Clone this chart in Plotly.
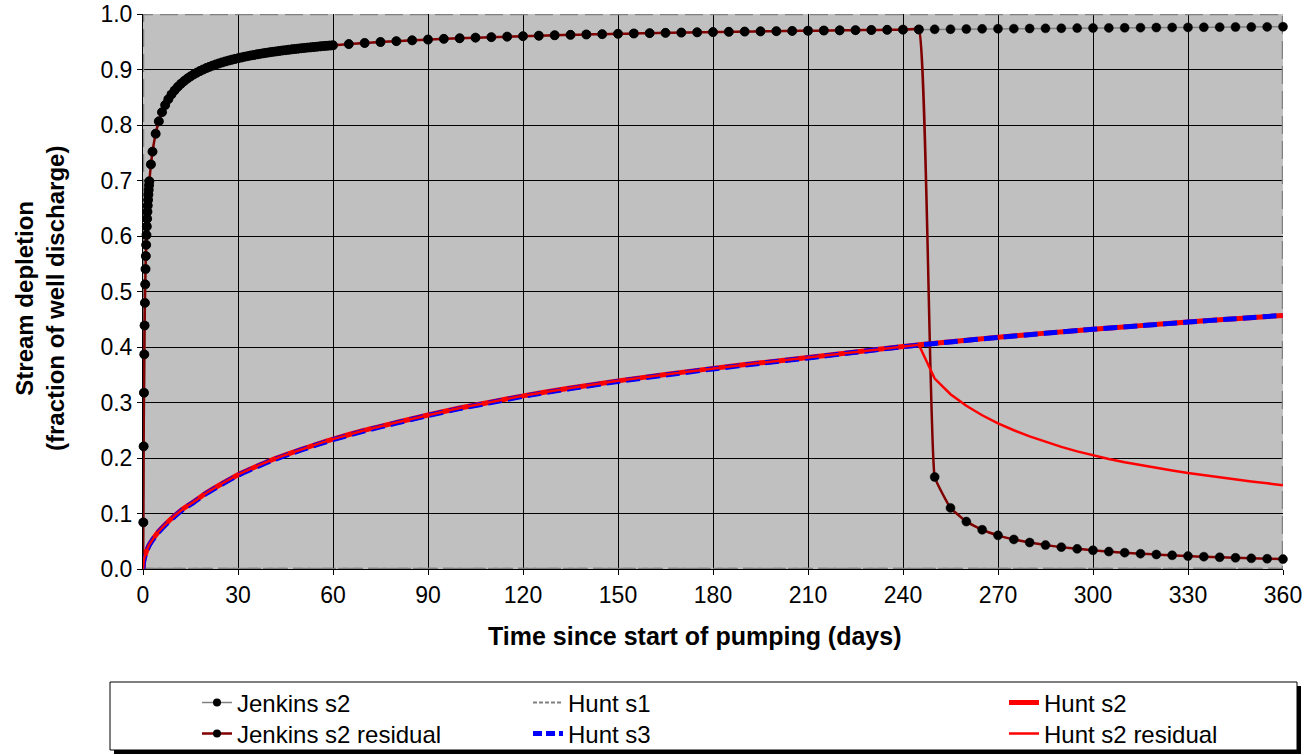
import plotly.graph_objects as go

# ---------------- data ----------------
stop_t = 245  # pumping stops (days)

jenkins_t = [0, 0.1, 0.2, 0.3, 0.4, 0.5, 0.6, 0.7, 0.8, 0.9, 1.0, 1.1, 1.2, 1.3, 1.4, 1.5, 1.6, 1.7, 1.8, 1.9, 2.0,
             2.5, 3, 4, 5, 6, 7,
             8, 9, 10, 11, 12, 13, 14, 15, 16, 17, 18, 19, 20, 21, 22, 23, 24, 25, 26, 27, 28, 29, 30,
             31, 32, 33, 34, 35, 36, 37, 38, 39, 40, 41, 42, 43, 44, 45, 46, 47, 48, 49, 50,
             51, 52, 53, 54, 55, 56, 57, 58, 59, 60,
             65, 70, 75, 80, 85, 90, 95, 100, 105, 110, 115, 120, 125, 130, 135, 140, 145, 150, 155, 160,
             165, 170, 175, 180, 185, 190, 195, 200, 205, 210, 215, 220, 225, 230, 235, 240, 245, 250, 255, 260,
             265, 270, 275, 280, 285, 290, 295, 300, 305, 310, 315, 320, 325, 330, 335, 340, 345, 350, 355, 360]
jenkins_s2 = [0, 0.084, 0.221, 0.3175, 0.3867, 0.4387, 0.4795, 0.5129, 0.5405, 0.5639, 0.5840, 0.6017, 0.6171,
              0.6311, 0.6437, 0.6549, 0.6651, 0.6745, 0.6832, 0.6913, 0.6987,
              0.729, 0.752, 0.7843, 0.8066, 0.8231, 0.8360,
              0.8465, 0.8551, 0.8625, 0.8688, 0.8744, 0.8793, 0.8836, 0.8875, 0.8911, 0.8943, 0.8973, 0.9000,
              0.9025, 0.9049, 0.9070, 0.9091, 0.9110, 0.9128, 0.9145, 0.9161, 0.9176, 0.9190, 0.9203,
              0.9216, 0.9229, 0.9240, 0.9252, 0.9262, 0.9273, 0.9282, 0.9292, 0.9301, 0.9310,
              0.9318, 0.9326, 0.9334, 0.9342, 0.9349, 0.9356, 0.9363, 0.9370, 0.9376, 0.9383,
              0.9389, 0.9395, 0.9400, 0.9406, 0.9411, 0.9417, 0.9422, 0.9427, 0.9432, 0.9436,
              0.9458, 0.9478, 0.9495, 0.9511, 0.9526, 0.9539, 0.9552, 0.9563, 0.9574, 0.9583,
              0.9592, 0.9601, 0.9609, 0.9617, 0.9624, 0.9631, 0.9637, 0.9643, 0.9649, 0.9655,
              0.9660, 0.9665, 0.9670, 0.9674, 0.9679, 0.9683, 0.9687, 0.9691, 0.9695, 0.9698,
              0.9702, 0.9705, 0.9709, 0.9712, 0.9715, 0.9718, 0.9721, 0.9724, 0.9726, 0.9729,
              0.9732, 0.9734, 0.9736, 0.9739, 0.9741, 0.9743, 0.9746, 0.9748, 0.9750, 0.9752,
              0.9754, 0.9756, 0.9758, 0.9759, 0.9761, 0.9763, 0.9765, 0.9766, 0.9768, 0.9770]

jres_t_post = [250, 255, 260, 265, 270, 275, 280, 285, 290, 295, 300, 305, 310, 315, 320, 325, 330,
               335, 340, 345, 350, 355, 360]
jres_post = [0.1658, 0.1101, 0.0854, 0.0707, 0.0606, 0.0533, 0.0477, 0.0431, 0.0394, 0.0363, 0.0337,
             0.0314, 0.0294, 0.0276, 0.0261, 0.0247, 0.0233, 0.0222, 0.0211, 0.0202, 0.0192, 0.0185, 0.0178]

hunt_t = [0, 0.1, 0.25, 0.5, 1, 1.5, 2, 3, 4, 5, 7, 10, 13, 16, 20, 25, 30, 35, 40, 45, 50, 55, 60,
          70, 80, 90, 100, 110, 120, 135, 150, 165, 180, 195, 210, 225, 240, 245, 255, 270, 285, 300,
          315, 330, 345, 360]
hunt_s2 = [0, 0.010, 0.0155, 0.022, 0.031, 0.038, 0.044, 0.053, 0.061, 0.068, 0.080, 0.096, 0.110,
           0.121, 0.137, 0.154, 0.170, 0.183, 0.195, 0.2055, 0.2155, 0.225, 0.234,
           0.250, 0.264, 0.2775, 0.290, 0.301, 0.312, 0.326, 0.339, 0.3505, 0.3615, 0.3715, 0.381,
           0.391, 0.401, 0.404, 0.4095, 0.4175, 0.425, 0.432, 0.4385, 0.445, 0.451, 0.457]
hunt_s3 = [0, 0.009, 0.0145, 0.021, 0.030, 0.037, 0.043, 0.052, 0.060, 0.067, 0.079, 0.095, 0.109,
           0.120, 0.136, 0.153, 0.169, 0.182, 0.194, 0.2045, 0.2145, 0.224, 0.233,
           0.249, 0.263, 0.2765, 0.289, 0.300, 0.311, 0.325, 0.338, 0.3495, 0.3605, 0.3705, 0.3802,
           0.3905, 0.4005, 0.4035, 0.4092, 0.4173, 0.4248, 0.4319, 0.4384, 0.4449, 0.451, 0.457]

hunt_s1_t = [0, 90, 180, 270, 360]
hunt_s1 = [0, 0, 0, 0, 0]

hres_t_post = [250, 255, 260, 265, 270, 275, 280, 285, 290, 295, 300, 305, 310, 315, 320, 325, 330,
               335, 340, 345, 350, 355, 360]
hres_post = [0.343, 0.315, 0.294, 0.277, 0.2625, 0.250, 0.239, 0.2291, 0.2201, 0.2119, 0.2044, 0.1982,
             0.1925, 0.1872, 0.1822, 0.1775, 0.1731, 0.169, 0.1651, 0.1614, 0.1578, 0.1544, 0.1511]

x_ticks = [0, 30, 60, 90, 120, 150, 180, 210, 240, 270, 300, 330, 360]
y_ticks = [0.0, 0.1, 0.2, 0.3, 0.4, 0.5, 0.6, 0.7, 0.8, 0.9, 1.0]

assert len(jenkins_t) == len(jenkins_s2)
assert len(hunt_t) == len(hunt_s2) == len(hunt_s3)
assert len(jres_t_post) == len(jres_post) and len(hres_t_post) == len(hres_post)

# residual series = pumping-period values followed by recovery values
jres_t = [t for t in jenkins_t if t <= stop_t] + jres_t_post
jres = [v for t, v in zip(jenkins_t, jenkins_s2) if t <= stop_t] + jres_post
hres_t = [t for t in hunt_t if t <= stop_t] + hres_t_post
hres = [v for t, v in zip(hunt_t, hunt_s2) if t <= stop_t] + hres_post

# ---------------- styling ----------------
FONT = "Liberation Sans, Arial, sans-serif"
W, H = 1310, 755
L, R, T, B = 143, 27, 14, 186
PW, PH = W - L - R, H - T - B


def px(xp):
    return (xp - L) / PW


def py(yp):
    return (H - B - yp) / PH


GRAY = "#808080"
DARKRED = "#800000"
MS = 9

fig = go.Figure()

fig.add_trace(go.Scatter(x=jenkins_t, y=jenkins_s2, mode="lines+markers", showlegend=False,
                         line=dict(color=GRAY, width=1.5),
                         marker=dict(color="#000000", opacity=1, size=[0] + [MS] * (len(jenkins_t) - 1),
                                     line=dict(width=0.5, color="#000000")),
                         cliponaxis=False))
fig.add_trace(go.Scatter(x=hunt_s1_t, y=hunt_s1, mode="lines", showlegend=False,
                         line=dict(color=GRAY, width=2.5, dash="10px,5px"), cliponaxis=False))
fig.add_trace(go.Scatter(x=hunt_t, y=hunt_s2, mode="lines", showlegend=False,
                         line=dict(color="#FF0000", width=5, shape="spline", smoothing=0.6)))
fig.add_trace(go.Scatter(x=jres_t, y=jres, mode="lines+markers", showlegend=False,
                         line=dict(color=DARKRED, width=2.5, shape="spline", smoothing=0.3),
                         marker=dict(color="#000000", opacity=1, size=[0] + [MS] * (len(jres_t) - 1),
                                     line=dict(width=0.5, color="#000000")),
                         cliponaxis=False))
fig.add_trace(go.Scatter(x=hunt_t, y=hunt_s3, mode="lines", showlegend=False,
                         line=dict(color="#0000FF", width=5, dash="14px,6px", shape="spline", smoothing=0.6)))
fig.add_trace(go.Scatter(x=hres_t, y=hres, mode="lines", showlegend=False,
                         line=dict(color="#FF0000", width=2.5)))

# legend entries (one small legend per slot, Excel-style 3x2 grid)
leg_items = [
    ("Jenkins s2", dict(mode="lines+markers", line=dict(color=GRAY, width=1.5),
                        marker=dict(color="black", size=8))),
    ("Hunt s1", dict(mode="lines", line=dict(color=GRAY, width=2, dash="4px,2px"))),
    ("Hunt s2", dict(mode="lines", line=dict(color="#FF0000", width=5))),
    ("Jenkins s2 residual", dict(mode="lines+markers", line=dict(color=DARKRED, width=2.5),
                                 marker=dict(color="black", size=8))),
    ("Hunt s3", dict(mode="lines", line=dict(color="#0000FF", width=5, dash="9px,4px"))),
    ("Hunt s2 residual", dict(mode="lines", line=dict(color="#FF0000", width=2.5))),
]
col_text_x = [237, 568, 1044]
row_y = [703, 734]
legend_layout = {}
for i, (name, style) in enumerate(leg_items):
    key = "legend" if i == 0 else f"legend{i + 1}"
    r, c = divmod(i, 3)
    fig.add_trace(go.Scatter(x=[None], y=[None], name=name, legend=key, showlegend=True, **style))
    legend_layout[key] = dict(x=px(col_text_x[c] - 40), y=py(row_y[r]), xanchor="left", yanchor="middle",
                              bgcolor="rgba(0,0,0,0)", borderwidth=0,
                              font=dict(family=FONT, size=24, color="black"))

shapes = [
    dict(type="rect", xref="x", yref="y", x0=0, x1=360, y0=0, y1=1, layer="between",
         line=dict(color=GRAY, width=2.5, dash="18px,7px")),
    dict(type="rect", xref="paper", yref="paper", x0=px(114), x1=px(1301), y0=py(754), y1=py(686),
         fillcolor="black", line=dict(width=0), layer="below"),
    dict(type="rect", xref="paper", yref="paper", x0=px(110), x1=px(1297), y0=py(750), y1=py(682),
         fillcolor="white", line=dict(color="black", width=1), layer="below"),
]

annotations = [
    dict(text="<b>Time since start of pumping (days)</b>", xref="paper", yref="paper",
         x=px(695), y=py(636), xanchor="center", yanchor="middle", showarrow=False,
         font=dict(family=FONT, size=25, color="black")),
    dict(text="<b>Stream depletion<br>(fraction of well discharge)</b>", xref="paper", yref="paper",
         x=px(40), y=py(299), xanchor="center", yanchor="middle", showarrow=False, textangle=-90,
         font=dict(family=FONT, size=24, color="black")),
]

axis_common = dict(showgrid=True, gridcolor="black", gridwidth=1, zeroline=False,
                   showline=True, linecolor="black", linewidth=1,
                   ticks="outside", ticklen=5, tickcolor="black", tickwidth=1,
                   tickfont=dict(family=FONT, size=23, color="black"), mirror=False)

fig.update_layout(
    width=W, height=H,
    margin=dict(l=L, r=R, t=T, b=B, pad=0, autoexpand=False),
    paper_bgcolor="white", plot_bgcolor="#C0C0C0",
    font=dict(family=FONT, color="black"),
    xaxis=dict(range=[0, 360], tickmode="array", tickvals=x_ticks,
               ticktext=[str(v) for v in x_ticks], **axis_common),
    yaxis=dict(range=[0, 1], tickmode="array", tickvals=y_ticks,
               ticktext=[f"{v:.1f}" for v in y_ticks], **axis_common),
    shapes=shapes, annotations=annotations,
    hovermode=False,
    **legend_layout,
)

fig.write_html("out.html", config={"displayModeBar": False},
               post_script="document.body.style.margin='0px';document.body.style.padding='0px';"
                           "document.body.style.overflow='hidden';")
